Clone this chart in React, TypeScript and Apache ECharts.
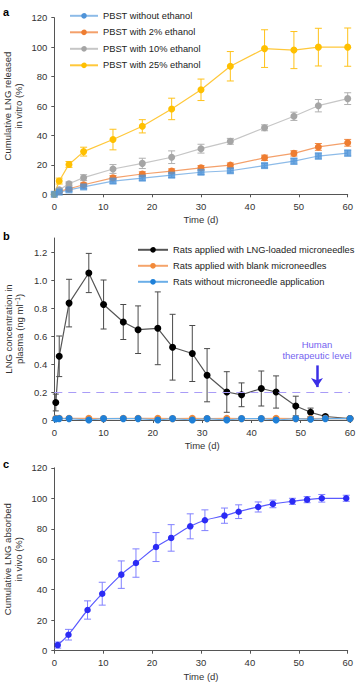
import React, { useEffect, useRef } from "react";
import * as echarts from "echarts";

const FONT = "Arial";

// ---------- Panel a (in vitro release) ----------
const daysA = [0, 1, 3, 6, 12, 18, 24, 30, 36, 43, 49, 54, 60];
const pbst0 = [0, 1.5, 3, 5, 9, 11, 13, 15, 16, 19.5, 22.5, 26, 28];
const pbst0Err = [0, 0.5, 1, 1.2, 1.5, 1.5, 1.5, 1.5, 1.5, 1.5, 2, 2, 2];
const pbst2 = [0, 2, 3.8, 6.5, 11.2, 13.8, 15.8, 18, 19.8, 24.8, 27.8, 32.2, 35];
const pbst2Err = [0, 0.5, 1, 1.2, 1.5, 1.5, 1.5, 1.5, 1.5, 1.8, 1.8, 2.3, 2.3];
const pbst10 = [0, 3, 7.2, 11.3, 17.2, 21, 25.2, 31, 36, 45.2, 53, 60.2, 65];
const pbst10Err = [0, 1, 1.2, 2, 3, 3.5, 4.3, 3, 2, 2, 2.8, 4.2, 4];
const pbst25 = [0, 9, 20.3, 29, 37.2, 46.2, 58, 71, 87, 99, 98, 100, 100];
const pbst25Err = [0, 2, 2, 3, 7, 4.5, 7.3, 7.3, 10, 12.8, 12.6, 12.8, 13];
const namesA = [
  "PBST without ethanol",
  "PBST with 2% ethanol",
  "PBST with 10% ethanol",
  "PBST with 25% ethanol",
];

// ---------- Panel b (plasma concentration) ----------
const daysB = [0.3, 1, 3, 7, 10, 14, 17, 21, 24, 28, 31, 35, 38, 42, 45, 49, 52, 55, 60];
const loaded = [0.125, 0.455, 0.835, 1.05, 0.825, 0.7, 0.645, 0.655, 0.52, 0.475, 0.32, 0.2, 0.18, 0.225, 0.2, 0.1, 0.055, 0.025, 0.01];
const loadedErr = [0.06, 0.145, 0.17, 0.14, 0.175, 0.125, 0.17, 0.26, 0.235, 0.2, 0.19, 0.145, 0.085, 0.125, 0.115, 0.07, 0.03, 0.01, 0.005];
const blank = [0.012, 0.012, 0.012, 0.012, 0.01, 0.012, 0.012, 0.012, 0.01, 0.012, 0.01, 0.012, 0.01, 0.01, 0.012, 0.01, 0.01, 0.012, 0.01];
const none = [0.008, 0.01, 0.01, 0, 0.01, 0.01, 0.01, 0, 0.01, 0, 0.01, 0, 0.01, 0.01, 0, 0.01, 0.005, 0.01, 0.01];
const namesB = [
  "Rats applied with LNG-loaded microneedles",
  "Rats applied with blank microneedles",
  "Rats without microneedle application",
];
const therapeuticLevel = 0.2;
const ticksB = [0, 0.2, 0.4, 0.6, 0.8, 1.0, 1.2];

// ---------- Panel c (in vivo absorption) ----------
const daysC = [0.7, 2.9, 6.8, 9.8, 13.7, 16.7, 20.8, 23.9, 27.8, 30.8, 34.8, 37.7, 41.7, 44.7, 48.7, 51.7, 54.7, 59.7];
const absorbed = [3.7, 10.5, 26.7, 37.4, 49.9, 57.5, 68, 74, 81.6, 85.6, 88.6, 91.2, 94.3, 96.3, 98, 99.1, 100, 100];
const absorbedErr = [2, 3.5, 6, 7.5, 9, 9.3, 9.5, 8.7, 8.2, 6.8, 5, 4.5, 3.3, 2.5, 2, 2, 2.5, 2];

const pairs = (xs: number[], ys: number[]) => xs.map((x, i) => [x, ys[i]]);
const errData = (xs: number[], ys: number[], es: number[]) =>
  xs.map((x, i) => [x, ys[i] - es[i], ys[i] + es[i]]).filter((_, i) => es[i] > 0);

function errSeries(
  grid: number,
  xs: number[],
  ys: number[],
  es: number[],
  color: string,
  cap: number,
  width: number
) {
  return {
    type: "custom",
    xAxisIndex: grid,
    yAxisIndex: grid,
    z: 1,
    silent: true,
    encode: { x: 0, y: [1, 2] },
    data: errData(xs, ys, es),
    renderItem: (params: any, api: any) => {
      const x = api.value(0);
      const top = api.coord([x, api.value(2)]);
      const bot = api.coord([x, api.value(1)]);
      const style = { stroke: color, lineWidth: width };
      return {
        type: "group",
        children: [
          { type: "line", shape: { x1: top[0], y1: top[1], x2: bot[0], y2: bot[1] }, style },
          { type: "line", shape: { x1: top[0] - cap, y1: top[1], x2: top[0] + cap, y2: top[1] }, style },
          { type: "line", shape: { x1: bot[0] - cap, y1: bot[1], x2: bot[0] + cap, y2: bot[1] }, style },
        ],
      };
    },
  };
}

function lineSeries(
  grid: number,
  name: string,
  data: number[][],
  marker: string,
  line: string,
  size: number,
  extra: any = {}
) {
  return {
    type: "line",
    name,
    xAxisIndex: grid,
    yAxisIndex: grid,
    data,
    symbol: "circle",
    symbolSize: size,
    z: 3,
    itemStyle: { color: marker },
    lineStyle: { color: line, width: 1.2 },
    ...extra,
  };
}

const FS = 9.5;
const LFS = 9.3;
const axisStyle = {
  axisLine: { lineStyle: { color: "#555", width: 1 } },
  axisTick: { length: 3, lineStyle: { color: "#555" } },
  splitLine: { show: false },
  nameMoveOverlap: false,
  nameTextStyle: { fontSize: FS, color: "#333", fontFamily: FONT, lineHeight: 11 },
};
const xLabel = { fontSize: FS, color: "#333", fontFamily: FONT, margin: 7 };
const yLabel = { fontSize: FS, color: "#333", fontFamily: FONT, margin: 7 };

export default function App() {
  const ref = useRef<HTMLDivElement>(null);
  useEffect(() => {
    if (!ref.current) return;
    const chart = echarts.init(ref.current, undefined, { renderer: "svg" });
    const option: any = {
      animation: false,
      backgroundColor: "#ffffff",
      textStyle: { fontFamily: FONT },
      grid: [
        { left: 54.3, right: 16.3, top: 17.7, height: 176.6, outerBoundsMode: "none", containLabel: false },
        { left: 54.3, right: 14, top: 238, height: 182, outerBoundsMode: "none", containLabel: false },
        { left: 54.3, right: 16.3, top: 467.8, height: 182.9, outerBoundsMode: "none", containLabel: false },
      ],
      legend: [
        {
          data: namesA,
          orient: "vertical",
          left: 69,
          top: 11.3,
          padding: 0,
          itemWidth: 28,
          itemHeight: 7,
          itemGap: 7.5,
          selectedMode: false,
          textStyle: { fontSize: LFS, color: "#222", fontFamily: FONT },
        },
        {
          data: namesB,
          orient: "vertical",
          left: 137,
          top: 245.3,
          padding: 0,
          itemWidth: 30,
          itemHeight: 7,
          itemGap: 7,
          selectedMode: false,
          textStyle: { fontSize: LFS, color: "#222", fontFamily: FONT },
        },
      ],
      xAxis: [0, 1, 2].map((g) => ({
        gridIndex: g, type: "value", min: 0, max: 60, interval: 10,
        name: "Time (d)", nameLocation: "middle", nameGap: 20,
        axisLabel: xLabel, ...axisStyle,
      })),
      yAxis: [
        {
          gridIndex: 0, type: "value", min: 0, max: 120, interval: 20,
          name: "Cumulative LNG released\nin vitro (%)", nameLocation: "middle", nameGap: 30,
          axisLabel: yLabel, ...axisStyle,
        },
        {
          gridIndex: 1, type: "value", min: 0, max: 1.3,
          name: "LNG concentration in\nplasma (ng ml{sup|−1})", nameLocation: "middle", nameGap: 29,
          ...axisStyle,
          nameTextStyle: {
            ...axisStyle.nameTextStyle,
            rich: { sup: { fontSize: 6.5, verticalAlign: "top", lineHeight: 8, fontFamily: FONT, color: "#333" } },
          },
          axisTick: { ...axisStyle.axisTick, customValues: ticksB },
          axisLabel: {
            ...yLabel,
            customValues: ticksB,
            formatter: (v: number) => (v === 0 ? "0" : v.toFixed(1)),
          },
        },
        {
          gridIndex: 2, type: "value", min: 0, max: 120, interval: 20,
          name: "Cumulative LNG absorbed\nin vivo (%)", nameLocation: "middle", nameGap: 30,
          axisLabel: yLabel, ...axisStyle,
        },
      ],
      graphic: [
        { type: "text", left: 3, top: 6, style: { text: "a", font: `bold 11px ${FONT}`, fill: "#000" } },
        { type: "text", left: 3, top: 230, style: { text: "b", font: `bold 11px ${FONT}`, fill: "#000" } },
        { type: "text", left: 3, top: 458, style: { text: "c", font: `bold 11px ${FONT}`, fill: "#000" } },
      ],
      series: [
        // panel a
        errSeries(0, daysA, pbst0, pbst0Err, "#6fa6de", 3.5, 1),
        errSeries(0, daysA, pbst2, pbst2Err, "#f08a45", 3.5, 1),
        errSeries(0, daysA, pbst10, pbst10Err, "#b0b0b0", 3.5, 1),
        errSeries(0, daysA, pbst25, pbst25Err, "#ffc21a", 3.5, 1),
        lineSeries(0, namesA[0], pairs(daysA, pbst0), "#4f93d8", "#8dbbe8", 7, { showSymbol: false }),
        {
          type: "scatter",
          name: "pbst0-markers",
          xAxisIndex: 0,
          yAxisIndex: 0,
          symbol: "rect",
          symbolSize: 7,
          z: 4,
          itemStyle: { color: "#4f93d8" },
          data: pairs(daysA, pbst0),
        },
        lineSeries(0, namesA[1], pairs(daysA, pbst2), "#ee7d31", "#f4a06a", 7),
        lineSeries(0, namesA[2], pairs(daysA, pbst10), "#a5a5a5", "#c6c6c6", 7),
        lineSeries(0, namesA[3], pairs(daysA, pbst25), "#ffc000", "#ffc83a", 7),
        // panel b
        errSeries(1, daysB, loaded, loadedErr, "#4a4a4a", 3, 1),
        lineSeries(1, namesB[0], pairs(daysB, loaded), "#000000", "#555555", 7, {
          markLine: {
            silent: true,
            symbol: "none",
            animation: false,
            data: [
              {
                yAxis: therapeuticLevel,
                lineStyle: { color: "#a99cf7", width: 1.2, type: [8, 6] },
                label: { show: false },
              },
              [
                {
                  coord: [53.3, 0.39],
                  symbol: "none",
                  lineStyle: { color: "#3b2fe6", width: 2.5, type: "solid" },
                  label: {
                    show: true,
                    position: "start",
                    distance: 4,
                    formatter: "Human\ntherapeutic level",
                    color: "#7464f0",
                    fontSize: FS,
                    lineHeight: 11,
                    fontFamily: FONT,
                  },
                },
                { coord: [53.3, 0.235], symbol: "arrow", symbolSize: [9, 9] },
              ],
            ],
          },
        }),
        lineSeries(1, namesB[1], pairs(daysB, blank), "#f28a3a", "#f5a46b", 7),
        lineSeries(1, namesB[2], pairs(daysB, none), "#1f80d8", "#6aaee8", 7),
        // panel c
        errSeries(2, daysC, absorbed, absorbedErr, "#8080ff", 3.5, 1),
        lineSeries(2, "absorbed", pairs(daysC, absorbed), "#2b2bf5", "#5a5aff", 6.5, { smooth: 0.4 }),
      ],
    };
    chart.setOption(option);
    return () => chart.dispose();
  }, []);
  return (
    <div
      ref={ref}
      style={{ position: "fixed", left: 0, top: 0, width: 364, height: 685, background: "#fff" }}
    />
  );
}
